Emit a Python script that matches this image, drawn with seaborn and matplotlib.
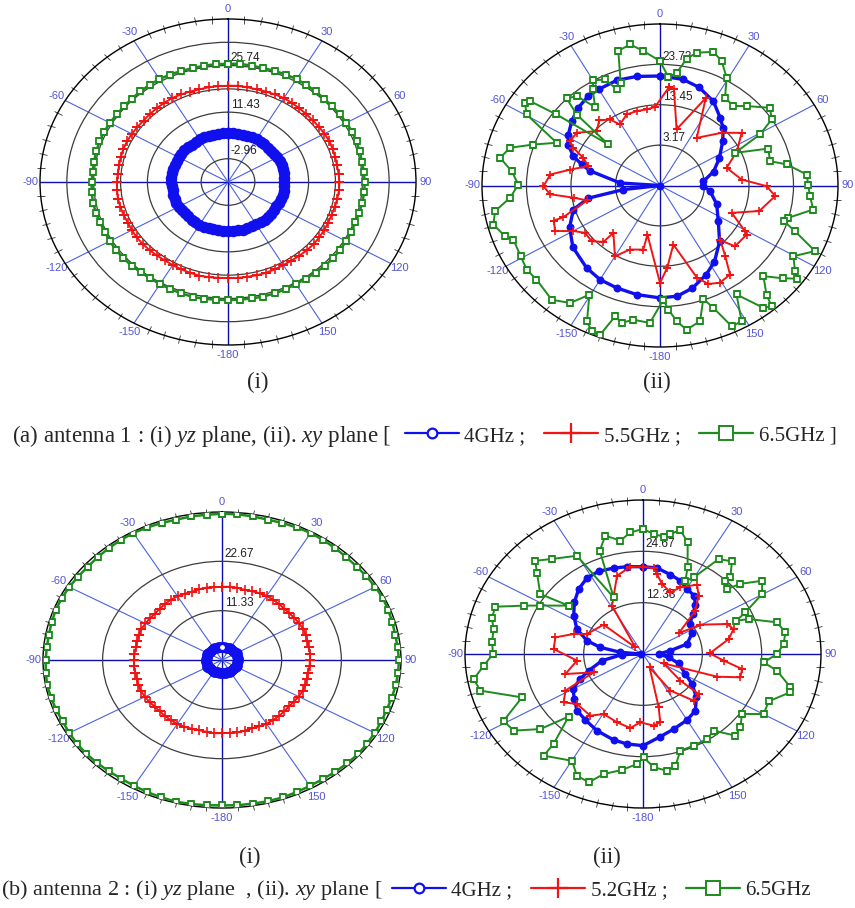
import numpy as np
import matplotlib
matplotlib.use("Agg")
import matplotlib.pyplot as plt
from matplotlib.lines import Line2D
from matplotlib.transforms import ScaledTranslation
import seaborn as sns

sns.set_style("white")
plt.rcParams["font.family"] = ["Liberation Sans", "DejaVu Sans"]
plt.rcParams["mathtext.fontset"] = "custom"
plt.rcParams["mathtext.rm"] = "Liberation Serif"
plt.rcParams["mathtext.it"] = "Liberation Serif:italic"

BLUE, RED, GREEN = "#1010ee", "#f01414", "#1e8b1e"
LABEL_BLUE = "#5454d6"

# ---------------- angular grid ----------------
SPOKE_DEG = [0, 30, 60, 90, 120, 150, 180, 210, 240, 270, 300, 330]
SPOKE_LABELS = ["0", "30", "60", "90", "120", "150", "-180", "-150", "-120", "-90", "-60", "-30"]
CIRCLE_DEG = np.arange(0, 360, 5)

# ---------------- antenna 1, yz plane (dB) ----------------
A1_RINGS = [-2.96, 4.24, 11.44, 18.64, 25.84, 33.04]
A1_RING_TEXT = ["-2.96", "", "11.43", "", "25.74", ""]
A1_LIMITS = (-10.16, 40.24)
A1_YZ_4GHZ = [5.1, 5.0, 5.0, 4.9, 5.0, 5.1, 5.2, 5.1, 5.0, 4.9, 4.9, 5.0, 5.1, 5.2, 5.2, 5.1, 5.0, 5.0,
              4.9, 5.0, 5.1, 5.1, 5.0, 4.9, 4.8, 4.9, 5.0, 5.1, 5.2, 5.1, 5.0, 4.9, 5.0, 5.1, 5.0, 5.0,
              5.1, 5.0, 4.9, 4.9, 5.0, 5.1, 5.2, 5.1, 5.0, 4.9, 4.8, 4.9, 5.0, 5.1, 5.1, 5.0, 4.9, 5.0,
              5.1, 5.2, 5.1, 5.0, 4.9, 4.9, 5.0, 5.1, 5.1, 5.0, 4.9, 5.0, 5.1, 5.2, 5.1, 5.0, 5.0, 5.1]
A1_YZ_55GHZ = [19.6, 19.7, 19.6, 19.5, 19.6, 19.7, 19.8, 19.7, 19.6, 19.5, 19.5, 19.6, 19.7, 19.8, 19.7, 19.6, 19.5, 19.6,
               19.7, 19.7, 19.6, 19.5, 19.4, 19.5, 19.6, 19.7, 19.8, 19.7, 19.6, 19.5, 19.5, 19.6, 19.7, 19.7, 19.6, 19.6,
               19.5, 19.6, 19.7, 19.8, 19.7, 19.6, 19.5, 19.4, 19.5, 19.6, 19.7, 19.7, 19.6, 19.5, 19.6, 19.7, 19.8, 19.7,
               19.6, 19.5, 19.5, 19.6, 19.7, 19.7, 19.6, 19.5, 19.4, 19.5, 19.6, 19.7, 19.8, 19.7, 19.6, 19.5, 19.6, 19.6]
A1_YZ_65GHZ = [26.4, 26.5, 26.4, 26.3, 26.4, 26.5, 26.6, 26.5, 26.4, 26.3, 26.3, 26.4, 26.5, 26.6, 26.5, 26.4, 26.3, 26.4,
               26.5, 26.5, 26.4, 26.3, 26.2, 26.3, 26.4, 26.5, 26.6, 26.5, 26.4, 26.3, 26.3, 26.4, 26.5, 26.5, 26.4, 26.4,
               26.3, 26.4, 26.5, 26.6, 26.5, 26.4, 26.3, 26.2, 26.3, 26.4, 26.5, 26.5, 26.4, 26.3, 26.4, 26.5, 26.6, 26.5,
               26.4, 26.3, 26.3, 26.4, 26.5, 26.5, 26.4, 26.3, 26.2, 26.3, 26.4, 26.5, 26.6, 26.5, 26.4, 26.3, 26.4, 26.4]

# ---------------- antenna 1, xy plane (dB) ----------------
A2_RINGS = [3.17, 13.45, 23.73]
A2_RING_TEXT = ["3.17", "13.45", "23.73"]
A2_LIMITS = (-7.11, 34.01)
A1_XY_4GHZ_DEG = [0, 11, 20, 30, 39, 45, 52, 63, 74, 84, 90, 97, 110, 124, 136, 147, 155, 164, 172, 180,
                  191, 201, 210, 219, 232, 243, 253, 259, 263, 270, 274, 283, 286.5, 290.5, 296, 301.5,
                  309, 316, 324, 330, 339.5, 349]
A1_XY_4GHZ = [20.77, 20.44, 19.45, 17.60, 15.01, 13.53, 11.27, 8.31, 5.76, 2.96, 2.76, 4.53, 6.83, 9.13,
              12.71, 16.00, 18.01, 20.07, 21.35, 21.51, 21.18, 20.81, 20.56, 19.86, 18.43, 16.33, 13.82,
              9.75, 1.40, -7.11, 2.14, 9.46, 11.76, 14.27, 16.49, 17.73, 19.08, 20.23, 21.06, 21.18,
              21.47, 21.18]
A1_XY_55GHZ_DEG = [4.9, 7.5, 15, 25.4, 35, 46.7, 54.6, 64, 73.7, 85.4, 90.4, 95.8, 105.8, 112.8, 120.6,
                   122, 131.8, 135, 140, 144.5, 150.8, 156, 160, 168.4, 175.4, 180, 193.1, 193.3, 203.1,
                   210, 221.8, 222.3, 228.1, 235.2, 240, 244.4, 250, 250.1, 257.3, 261.1, 265, 269.6,
                   276.3, 281, 286.6, 291.6, 295.6, 298.5, 305, 313.4, 319.8, 325.5, 329.2, 337, 344.1,
                   351, 356.7]
A1_XY_55GHZ = [18.14, 17.56, 7.69, 17.56, 7.69, 12.46, 16.04, 12.63, 8.93, 11.81, 17.56, 19.62, 16.74,
               10.86, 15.71, 16.49, 16.12, 12.63, 16.33, 20.73, 21.26, 20.32, 17.89, 8.23, 13.86, 17.69,
               5.72, 9.67, 10.61, 13.70, 9.05, 12.30, 14.11, 14.00, 16.04, 19.78, 18.96, 16.70, 10.16,
               13.04, 18.38, 19.82, 18.38, 14.07, 10.16, 11.97, 15.09, 16.57, 16.33, 13.04, 14.60, 13.29,
               10.98, 12.55, 12.59, 12.50, 12.92]
A1_XY_65GHZ_DEG = [0, 4, 7.7, 10.8, 14.1, 19.9, 24.2, 29.3, 33.9, 39.9, 44.7, 52.1, 56.9, 60.6, 64.4,
                   69.4, 76.3, 79.6, 85.3, 89.9, 94.5, 99.8, 105.5, 107.6, 110.5, 115, 120.3, 125, 126.9,
                   129.7, 134, 138.5, 140, 142.5, 147.5, 151.4, 155.2, 158.4, 160.9, 165, 170.5, 173.6,
                   176.5, 178.5, 183.8, 190.2, 194.2, 197.3, 200, 203, 206, 210.4, 214.8, 220.7, 230,
                   235.2, 240.8, 247.9, 250.2, 255.5, 260.3, 264.8, 270.4, 276.1, 280.8, 285.5, 289.6,
                   294.5, 300.4, 304, 305.6, 307.1, 311.2, 313.2, 315.8, 319.8, 323.1, 327.6, 330, 334.8,
                   337.8, 340.8, 344.3, 349.1, 353.6]
A1_XY_65GHZ = [24.59, 20.56, 21.84, 25.79, 27.76, 29.08, 27.64, 24.35, 19.82, 19.29, 21.35, 25.09, 23.69,
               19.41, 12.09, 19.62, 19.04, 22.66, 26.90, 27.14, 27.64, 28.83, 23.65, 22.95, 26.20, 32.41,
               28.58, 30.97, 32.37, 29.90, 26.11, 30.02, 33.02, 32.16, 25.79, 32.28, 32.37, 26.40, 23.44,
               28.66, 30.10, 27.68, 24.55, 21.96, 27.97, 27.60, 28.99, 27.80, 33.31, 33.23, 31.38, 25.13,
               29.32, 31.25, 30.14, 30.39, 29.77, 29.45, 30.97, 32.65, 31.54, 27.68, 25.62, 27.35, 30.51,
               28.83, 23.98, 19.12, 28.62, 30.51, 29.82, 22.87, 8.76, 19.29, 23.81, 22.70, 17.89, 21.88,
               23.77, 22.74, 19.33, 20.56, 28.46, 29.49, 27.35]

# ---------------- antenna 2, yz plane (dB) ----------------
B1_RINGS = [11.33, 22.67]
B1_RING_TEXT = ["11.33", "22.67"]
B1_LIMITS = (0.0, 34.0)
A2_YZ_4GHZ = [3.0, 3.1, 3.0, 2.9, 3.0, 3.1, 3.1, 3.0, 2.9, 2.9, 3.0, 3.1, 3.2, 3.1, 3.0, 2.9, 3.0, 3.0,
              3.1, 3.0, 2.9, 3.0, 3.1, 3.2, 3.1, 3.0, 2.9, 2.9, 3.0, 3.1, 3.1, 3.0, 2.9, 3.0, 3.1, 3.0,
              3.0, 3.1, 3.0, 2.9, 3.0, 3.1, 3.1, 3.0, 2.9, 2.9, 3.0, 3.1, 3.2, 3.1, 3.0, 2.9, 3.0, 3.0,
              3.1, 3.0, 2.9, 3.0, 3.1, 3.2, 3.1, 3.0, 2.9, 2.9, 3.0, 3.1, 3.1, 3.0, 2.9, 3.0, 3.1, 3.0]
A2_YZ_52GHZ = [16.8, 16.9, 16.8, 16.7, 16.8, 16.9, 17.0, 16.9, 16.8, 16.7, 16.7, 16.8, 16.9, 17.0, 16.9, 16.8, 16.7, 16.8,
               16.7, 16.7, 16.6, 16.7, 16.8, 16.9, 16.8, 16.7, 16.6, 16.7, 16.8, 16.9, 16.9, 16.8, 16.7, 16.8, 16.9, 16.8,
               16.8, 16.9, 16.8, 16.7, 16.8, 16.9, 17.0, 16.9, 16.8, 16.7, 16.7, 16.8, 16.9, 17.0, 16.9, 16.8, 16.7, 16.8,
               16.7, 16.7, 16.6, 16.7, 16.8, 16.9, 16.8, 16.7, 16.6, 16.7, 16.8, 16.9, 16.9, 16.8, 16.7, 16.8, 16.9, 16.8]
A2_YZ_65GHZ = [33.6, 33.6, 33.5, 33.4, 33.5, 33.6, 33.7, 33.6, 33.5, 33.4, 33.4, 33.5, 33.6, 33.7, 33.6, 33.5, 33.4, 33.5,
               33.6, 33.6, 33.5, 33.4, 33.3, 33.4, 33.5, 33.6, 33.7, 33.6, 33.5, 33.4, 33.4, 33.5, 33.6, 33.6, 33.5, 33.5,
               33.4, 33.5, 33.6, 33.7, 33.6, 33.5, 33.4, 33.3, 33.4, 33.5, 33.6, 33.6, 33.5, 33.4, 33.5, 33.6, 33.7, 33.6,
               33.5, 33.4, 33.4, 33.5, 33.6, 33.6, 33.5, 33.4, 33.3, 33.4, 33.5, 33.6, 33.7, 33.6, 33.5, 33.4, 33.5, 33.5]

# ---------------- antenna 2, xy plane (dB) ----------------
B2_RINGS = [12.33, 24.67]
B2_RING_TEXT = ["12.33", "24.67"]
B2_LIMITS = (0.0, 37.0)
A2_XY_4GHZ_DEG = [0, 8, 16.6, 23.8, 30.3, 37.2, 42.6, 47.2, 53.3, 64, 75.3, 81.9, 90, 98.6, 106.9, 118.6,
                  125.3, 133.1, 141.4, 150, 160.5, 169.8, 180, 188.8, 196.5, 207.4, 217, 225.2, 232.9,
                  240, 245.3, 250.5, 259.4, 268, 270, 275, 280.2, 285.4, 293.6, 302.6, 311, 319.5,
                  327.5, 335.1, 343.5, 351]
A2_XY_4GHZ = [20.98, 20.87, 19.91, 19.24, 18.09, 17.61, 16.10, 14.17, 12.10, 11.32, 9.47, 5.74, 3.26, 5.40,
              7.73, 10.03, 12.47, 15.21, 17.43, 18.32, 19.13, 20.20, 22.02, 21.87, 21.53, 20.76, 19.87,
              19.31, 17.91, 16.80, 14.36, 11.99, 8.66, 4.37, 0.5, 4.74, 9.03, 12.10, 14.99, 17.09, 18.91,
              20.57, 21.65, 21.90, 21.53, 21.24]
A2_XY_52GHZ_DEG = [0, 6.1, 8.6, 13.2, 21, 25.9, 34, 39.5, 46.3, 56.2, 59.4, 67.6, 72.3, 78.6, 89.4, 95.4,
                   99.9, 105.5, 109.5, 117.6, 129.5, 129.7, 136.8, 147, 157, 165.7, 167.7, 172.6, 182,
                   188.4, 198.2, 209.5, 216.5, 228.8, 234.8, 241.4, 246.8, 253.4, 263.4, 273.7, 282.4,
                   288.4, 292.4, 310.7, 315, 331, 344, 352.9]
A2_XY_52GHZ = [20.98, 20.76, 19.43, 17.28, 15.87, 17.80, 20.09, 18.17, 15.06, 8.92, 13.84, 18.91, 19.76,
               18.17, 13.88, 16.84, 20.91, 20.98, 16.32, 4.85, 10.06, 15.06, 15.39, 10.47, 3.48, 13.21,
               16.80, 17.35, 16.43, 17.98, 17.28, 16.58, 18.43, 18.24, 20.17, 18.39, 11.17, 16.84, 13.80,
               18.61, 18.65, 15.21, 12.60, 10.80, 2.26, 13.28, 19.57, 21.13]
A2_XY_65GHZ_DEG = [0, 4.4, 8.7, 11.2, 14.6, 19.1, 24, 26.6, 29.8, 34.6, 39.7, 44.6, 44.2, 48.2, 50.2, 54.6,
                   59.8, 64.8, 67.6, 69.1, 74.7, 80, 85.3, 90, 94.6, 98.2, 104.6, 106.7, 113.5, 119.9, 125,
                   131, 135.6, 141.4, 146.9, 154.4, 161.5, 165.9, 169.9, 175.3, 179.7, 182.7, 188.9, 195.8,
                   200.1, 205.2, 209.9, 220.2, 220.7, 225.8, 229.8, 235.6, 241, 247.5, 255.4, 260.3, 265.1,
                   270, 275.1, 280.9, 285.4, 290.3, 295.1, 298.6, 306.9, 304, 311.6, 315, 320.4, 329.8,
                   335.8, 340.1, 344.6, 350.2, 354.9]
A2_XY_65GHZ = [30.04, 28.90, 28.53, 29.38, 30.78, 28.38, 22.79, 19.68, 21.20, 27.71, 28.93, 25.86, 24.57,
               23.42, 26.31, 30.38, 28.64, 23.53, 20.98, 23.53, 28.86, 30.04, 29.34, 27.86, 25.16, 28.16,
               31.64, 31.97, 28.49, 28.93, 25.12, 26.83, 27.45, 23.57, 24.38, 24.42, 24.49, 27.68, 28.49,
               27.31, 24.83, 26.46, 28.19, 29.97, 32.82, 32.30, 29.60, 31.97, 28.49, 21.57, 27.94, 32.60,
               33.12, 27.23, 34.93, 35.71, 33.23, 31.19, 31.49, 31.64, 32.56, 32.75, 27.38, 24.31, 19.35,
               25.75, 29.49, 31.67, 29.64, 27.31, 14.91, 26.42, 29.49, 27.64, 29.34]

# ---------------- figure ----------------
fig = plt.figure(figsize=(8.55, 9.08), dpi=100)
W, H = 855.0, 908.0


def px_rect(x0, y0, x1, y1):
    return [x0 / W, 1 - y1 / H, (x1 - x0) / W, (y1 - y0) / H]


def make_panel(rect, limits, rings, ring_text):
    ax = fig.add_axes(rect, projection="polar")
    ax.set_aspect("auto")
    ax.set_theta_zero_location("N")
    ax.set_theta_direction(-1)
    ax.set_axisbelow(True)
    ax.set_ylim(*limits)
    ax.set_yticks(rings)
    ax.set_yticklabels([])
    ax.set_xticks(np.deg2rad(SPOKE_DEG))
    ax.set_xticklabels(SPOKE_LABELS)
    ax.set_xticks(np.deg2rad(np.arange(0, 360, 5)), minor=True)
    ax.tick_params(axis="x", which="major", pad=0, labelsize=8, labelcolor=LABEL_BLUE, length=0,
                   bottom=False, top=False)
    ax.tick_params(axis="x", which="minor", bottom=False, top=True, length=3, width=0.6,
                   color="#333333", direction="inout")
    ax.yaxis.grid(True, color="#3c3c3c", linewidth=0.9)
    ax.xaxis.grid(True, linewidth=0.8)
    for deg, tick in zip(SPOKE_DEG, ax.xaxis.get_major_ticks()):
        main = deg % 90 == 0
        tick.gridline.set_color("#0c0cb0" if main else "#4a62e0")
        tick.gridline.set_linewidth(1.0 if main else 0.8)
    ax.spines["polar"].set_color("black")
    ax.spines["polar"].set_linewidth(1.0)
    shift = ScaledTranslation(2 / 72, 1 / 72, fig.dpi_scale_trans)
    for val, txt in zip(rings, ring_text):
        if txt:
            ax.text(0, val, txt, transform=ax.transData + shift, ha="left", va="bottom",
                    fontsize=8.5, color="#202020", zorder=1.5)
    return ax


def trace(ax, deg, val, color, marker, ms, mfc, lw, mew):
    deg = np.asarray(deg, dtype=float)
    val = np.asarray(val, dtype=float)
    theta = np.deg2rad(np.append(deg, deg[0] + 360))
    r = np.append(val, val[0])
    sns.lineplot(x=theta, y=r, ax=ax, sort=False, estimator=None, color=color, linewidth=lw,
                 marker=marker, markersize=ms, markerfacecolor=mfc, markeredgecolor=color,
                 markeredgewidth=mew, legend=False, zorder=3)


# (a)(i) antenna 1, yz plane
ax1 = make_panel(px_rect(40, 19, 416, 345), A1_LIMITS, A1_RINGS, A1_RING_TEXT)
trace(ax1, CIRCLE_DEG, A1_YZ_4GHZ, BLUE, "o", 6.5, BLUE, 3.5, 1.8)
trace(ax1, CIRCLE_DEG, A1_YZ_55GHZ, RED, "+", 6.5, RED, 1.4, 1.2)
trace(ax1, CIRCLE_DEG, A1_YZ_65GHZ, GREEN, "s", 4.5, "white", 1.8, 1.3)
ax1.set_ylim(*A1_LIMITS)

# (a)(ii) antenna 1, xy plane
ax2 = make_panel(px_rect(482, 24, 838, 347), A2_LIMITS, A2_RINGS, A2_RING_TEXT)
trace(ax2, A1_XY_4GHZ_DEG, A1_XY_4GHZ, BLUE, "o", 4.5, BLUE, 2.4, 1.2)
trace(ax2, A1_XY_55GHZ_DEG, A1_XY_55GHZ, RED, "+", 6, RED, 1.4, 1.2)
trace(ax2, A1_XY_65GHZ_DEG, A1_XY_65GHZ, GREEN, "s", 4.5, "white", 1.4, 1.3)
ax2.set_ylim(*A2_LIMITS)

# (b)(i) antenna 2, yz plane
ax3 = make_panel(px_rect(43, 512, 401, 808), B1_LIMITS, B1_RINGS, B1_RING_TEXT)
trace(ax3, CIRCLE_DEG, A2_YZ_4GHZ, BLUE, "o", 5.5, "white", 3.0, 2.0)
trace(ax3, CIRCLE_DEG, A2_YZ_52GHZ, RED, "+", 6.5, RED, 1.4, 1.2)
trace(ax3, CIRCLE_DEG, A2_YZ_65GHZ, GREEN, "s", 4.5, "white", 1.8, 1.3)
ax3.set_ylim(*B1_LIMITS)

# (b)(ii) antenna 2, xy plane
ax4 = make_panel(px_rect(465, 500, 821, 808), B2_LIMITS, B2_RINGS, B2_RING_TEXT)
trace(ax4, A2_XY_4GHZ_DEG, A2_XY_4GHZ, BLUE, "o", 4.5, BLUE, 2.4, 1.2)
trace(ax4, A2_XY_52GHZ_DEG, A2_XY_52GHZ, RED, "+", 6, RED, 1.4, 1.2)
trace(ax4, A2_XY_65GHZ_DEG, A2_XY_65GHZ, GREEN, "s", 4.5, "white", 1.4, 1.3)
ax4.set_ylim(*B2_LIMITS)

# ---------------- captions ----------------
CAPTION = {"family": "Liberation Serif", "size": 16.5}
CAPTION_B = {"family": "Liberation Serif", "size": 16}
LEGEND_FONT = {"family": "Liberation Serif", "size": 15}
fig.text(258 / W, 1 - 382 / H, "(i)", ha="center", va="center", fontdict=CAPTION)
fig.text(657 / W, 1 - 382 / H, "(ii)", ha="center", va="center", fontdict=CAPTION)
fig.text(250 / W, 1 - 857 / H, "(i)", ha="center", va="center", fontdict=CAPTION)
fig.text(607 / W, 1 - 857 / H, "(ii)", ha="center", va="center", fontdict=CAPTION)

fig.text(12 / W, 1 - 436 / H, r"(a) antenna 1 : (i) $\mathit{yz}$ plane, (ii). $\mathit{xy}$ plane [",
         ha="left", va="center", fontdict=CAPTION)
fig.text(1 / W, 1 - 890 / H, r"(b) antenna 2 : (i) $\mathit{yz}$ plane  , (ii). $\mathit{xy}$ plane [",
         ha="left", va="center", fontdict=CAPTION_B)


def legend_row(x_px, y_px, labels):
    handles = [
        Line2D([], [], color=BLUE, lw=1.6, marker="o", ms=7, mfc="white", mec=BLUE, mew=1.6),
        Line2D([], [], color=RED, lw=1.6, marker="+", ms=15, mew=1.6),
        Line2D([], [], color=GREEN, lw=1.6, marker="s", ms=10, mfc="white", mec=GREEN, mew=1.4),
    ]
    fig.legend(handles, labels, loc="center left", bbox_to_anchor=(x_px / W, 1 - y_px / H),
               ncol=3, frameon=False, prop=LEGEND_FONT, handlelength=2.6, handletextpad=0.25,
               columnspacing=0.9, borderpad=0, borderaxespad=0)


legend_row(405, 436, ["4GHz ;", "5.5GHz ;", "6.5GHz ]"])
legend_row(392, 890, ["4GHz ;", "5.2GHz ;", "6.5GHz"])

fig.savefig("out.png", dpi=100, facecolor="white")
